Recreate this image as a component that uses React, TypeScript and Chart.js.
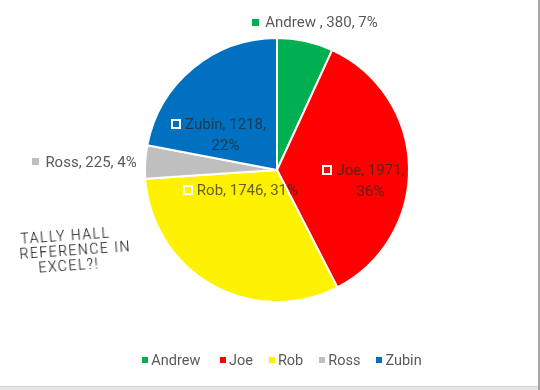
import React, { useEffect, useRef } from "react";
import { Chart, registerables } from "chart.js";

Chart.register(...registerables);

const categories = ["Andrew ", "Joe", "Rob", "Ross", "Zubin"];
const values = [380, 1971, 1746, 225, 1218];
const percentLabels = [7, 36, 31, 4, 22];
const colors = ["#00B050", "#FF0000", "#FFF200", "#BFBFBF", "#0070C0"];
const noteLines = ["TALLY HALL", "REFERENCE IN", "EXCEL?!"];

// label placement: offset from pie centre, in units of the pie radius
const labelLayout = [
  { dx: 0.288, dy: -1.121, inside: false, wrap: false },
  { dx: 0.655, dy: 0.083, inside: true, wrap: true },
  { dx: -0.277, dy: 0.152, inside: true, wrap: false },
  { dx: -1.458, dy: -0.061, inside: false, wrap: false },
  { dx: -0.443, dy: -0.269, inside: true, wrap: true },
];

const LABEL_FONT = "15px Roboto, 'Open Sans', sans-serif";
const LEGEND_FONT = "14.5px Roboto, 'Open Sans', sans-serif";

const labelPlugin = {
  id: "excelLabels",
  afterDatasetsDraw(chart: any) {
    const ctx = chart.ctx as CanvasRenderingContext2D;
    const meta = chart.getDatasetMeta(0);
    ctx.save();
    ctx.font = LABEL_FONT;
    ctx.textBaseline = "middle";
    ctx.textAlign = "center";
    meta.data.forEach((arc: any, i: number) => {
      const { x, y, outerRadius } = arc.getProps(["x", "y", "outerRadius"], true);
      const L = labelLayout[i];
      const cx = x + L.dx * outerRadius;
      const cy = y + L.dy * outerRadius;
      const name = categories[i];
      const lines = L.wrap
        ? [`${name}, ${values[i]},`, `${percentLabels[i]}%`]
        : [`${name}, ${values[i]}, ${percentLabels[i]}%`];
      const tw = Math.max(...lines.map((l) => ctx.measureText(l).width));
      const mSize = L.inside ? 10 : 7;
      const gap = L.inside ? 4 : 6;
      const blockW = mSize + gap + tw;
      const left = cx - blockW / 2;
      const lh = 21;
      const top = cy - (lh * lines.length) / 2;
      const my = top + lh / 2;
      if (L.inside) {
        ctx.fillStyle = "#FFFFFF";
        ctx.fillRect(Math.round(left), Math.round(my - 5), 10, 10);
        ctx.fillStyle = colors[i];
        ctx.fillRect(Math.round(left) + 2, Math.round(my - 5) + 2, 6, 6);
        ctx.fillStyle = "rgba(40,40,40,0.72)";
      } else {
        ctx.fillStyle = colors[i];
        ctx.fillRect(Math.round(left), Math.round(my - 3.5), 7, 7);
        ctx.fillStyle = "#595959";
      }
      lines.forEach((line, k) => {
        ctx.fillText(line, left + mSize + gap + tw / 2, top + lh * (k + 0.5) + 1);
      });
    });
    ctx.restore();
  },
  afterDraw(chart: any) {
    const ctx = chart.ctx as CanvasRenderingContext2D;
    ctx.save();
    ctx.font = LEGEND_FONT;
    ctx.textBaseline = "middle";
    ctx.textAlign = "left";
    const marker = 6;
    const textGap = 3;
    const itemGap = 16;
    const widths = categories.map((c) => ctx.measureText(c).width);
    const total =
      widths.reduce((a, b) => a + b, 0) + categories.length * (marker + textGap) + (categories.length - 1) * itemGap;
    let xPos = chart.width / 2 + 12 - total / 2;
    const yPos = 360;
    categories.forEach((c, i) => {
      ctx.fillStyle = colors[i];
      ctx.fillRect(Math.round(xPos), yPos - 3, marker, marker);
      ctx.fillStyle = "#595959";
      ctx.fillText(c, xPos + marker + textGap, yPos + 1);
      xPos += marker + textGap + widths[i] + itemGap;
    });
    ctx.restore();
  },
};

export default function App() {
  const canvasRef = useRef<HTMLCanvasElement | null>(null);

  useEffect(() => {
    document.body.style.margin = "0";
    const canvas = canvasRef.current;
    if (!canvas) return;
    const chart = new Chart(canvas, {
      type: "pie",
      data: {
        labels: categories,
        datasets: [
          {
            data: values,
            backgroundColor: colors,
            borderColor: "#FFFFFF",
            borderWidth: 2,
          },
        ],
      },
      options: {
        responsive: false,
        animation: false,
        layout: { padding: { top: 37, bottom: 87, left: 14, right: 0 } },
        plugins: {
          legend: { display: false },
          tooltip: { enabled: false },
        },
      },
      plugins: [labelPlugin],
    });
    return () => chart.destroy();
  }, []);

  return (
    <div style={{ position: "relative", width: 540, height: 390, background: "#FFFFFF", overflow: "hidden" }}>
      <canvas ref={canvasRef} width={540} height={390} style={{ display: "block" }} />
      <div
        style={{
          position: "absolute",
          left: 18,
          top: 232,
          fontFamily: "Roboto, 'DejaVu Sans', sans-serif",
          fontWeight: 300,
          fontSize: 14,
          lineHeight: "15px",
          color: "#000",
          transform: "rotate(-4deg)",
          transformOrigin: "left top",
          letterSpacing: "1.5px",
        }}
      >
        <div style={{ paddingLeft: 2 }}>{noteLines[0]}</div>
        <div>{noteLines[1]}</div>
        <div style={{ paddingLeft: 18 }}>{noteLines[2]}</div>
      </div>
      <div style={{ position: "absolute", left: 0, top: 386, width: 540, height: 4, background: "#E6E6E6", borderTop: "1px solid #D4D4D4" }} />
      <div style={{ position: "absolute", left: 538, top: 0, width: 2, height: 390, background: "#A6A6A6" }} />
    </div>
  );
}
